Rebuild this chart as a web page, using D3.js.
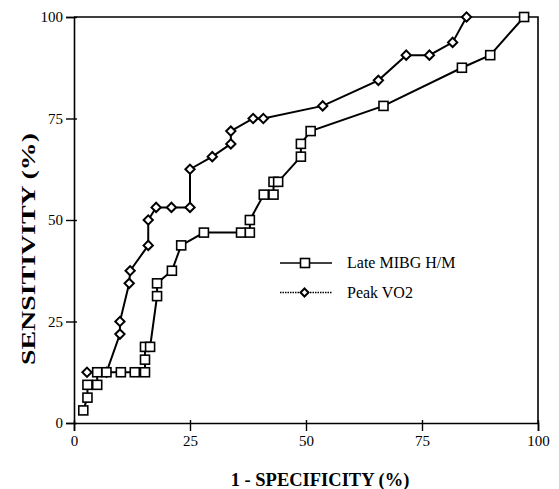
<!DOCTYPE html>
<html lang="en">
  <head>
    <meta charset="UTF-8" />
    <title>ROC</title>
    <script src="https://d3js.org/d3.v7.min.js"></script>
    <style>
      body { margin: 0; background: #fff; }
      svg text { font-family: 'Liberation Serif', 'DejaVu Serif', serif !important; fill: #000; }
      .domain { stroke: #000; stroke-width: 1.6; }
      .tick line { stroke: #000; stroke-width: 1.4; }
    </style>
  </head>
  <body>
    <script>
      // data (x = 1 - specificity %, y = sensitivity %)
      let mibgX = [2, 2.9, 2.9, 5, 5, 7, 10.1, 13.1, 15.3, 15.3, 15.3, 16.4, 17.9, 17.9, 21.1, 23.1, 28, 36, 37.9, 37.9, 40.9, 43, 43, 44, 48.9, 48.9, 51, 66.7, 83.6, 89.7, 97]
      let mibgY = [3.1, 6.25, 9.4, 9.4, 12.5, 12.5, 12.5, 12.5, 12.5, 15.6, 18.75, 18.75, 31.25, 34.4, 37.5, 43.75, 46.9, 46.9, 46.9, 50, 56.25, 56.25, 59.4, 59.4, 65.6, 68.75, 71.9, 78.1, 87.5, 90.6, 100]
      let vo2X = [2.8, 7, 9.9, 9.9, 11.9, 12.1, 16, 16, 17.7, 21, 25, 25, 29.8, 33.8, 33.8, 38.6, 40.8, 53.6, 65.6, 71.6, 76.6, 81.6, 84.6]
      let vo2Y = [12.5, 12.5, 21.9, 25, 34.4, 37.5, 43.75, 50, 53.1, 53.1, 53.1, 62.5, 65.6, 68.75, 71.9, 75, 75, 78.1, 84.4, 90.6, 90.6, 93.75, 100]
      let tickValues = [0, 25, 50, 75, 100]
      let seriesNames = ['Late MIBG H/M', 'Peak VO2']

      let width = 559
      let height = 489
      let plotLeft = 74, plotRight = 538, plotTop = 17, plotBottom = 423
      let serif = "'Liberation Serif', 'DejaVu Serif', serif"

      let x = d3.scaleLinear().domain([0, 100]).range([plotLeft, plotRight])
      let y = d3.scaleLinear().domain([0, 100]).range([plotBottom, plotTop])

      let svg = d3.select('body').append('svg')
        .attr('width', width)
        .attr('height', height)
        .style('font-family', serif)

      // frame on top and right
      svg.append('path')
        .attr('d', `M${plotLeft},${plotTop}H${plotRight}V${plotBottom}`)
        .attr('fill', 'none')
        .attr('stroke', '#000')
        .attr('stroke-width', 1.6)

      let xAxis = svg.append('g')
        .attr('transform', `translate(0,${plotBottom})`)
        .call(d3.axisBottom(x).tickValues(tickValues).tickSizeOuter(0).tickSize(8).tickPadding(4))
      xAxis.attr('font-family', serif).attr('font-size', 15)
      xAxis.selectAll('.tick line').attr('y1', -3)

      let yAxis = svg.append('g')
        .attr('transform', `translate(${plotLeft},0)`)
        .call(d3.axisLeft(y).tickValues(tickValues).tickSizeOuter(0).tickSize(8).tickPadding(3))
      yAxis.attr('font-family', serif).attr('font-size', 15)
      yAxis.selectAll('.tick line').attr('x1', 3)

      // axis titles
      svg.append('text')
        .attr('x', 320)
        .attr('y', 486)
        .attr('text-anchor', 'middle')
        .style('font-size', '18.5px')
        .style('font-weight', 'bold')
        .text('1 - SPECIFICITY (%)')

      svg.append('text')
        .attr('transform', 'translate(35,249) rotate(-90)')
        .attr('text-anchor', 'middle')
        .attr('textLength', 232)
        .attr('lengthAdjust', 'spacingAndGlyphs')
        .style('font-size', '18px')
        .style('font-weight', 'bold')
        .text('SENSITIVITY (%)')

      let line = d3.line().x(d => x(d[0])).y(d => y(d[1]))
      let vo2 = vo2X.map((v, i) => [v, vo2Y[i]])
      let mibg = mibgX.map((v, i) => [v, mibgY[i]])

      let diamond = d3.symbol().type(d3.symbolDiamond2).size(55)

      // Peak VO2 first, squares drawn over it
      svg.append('path')
        .datum(vo2)
        .attr('d', line)
        .attr('fill', 'none')
        .attr('stroke', '#000')
        .attr('stroke-width', 2)
      svg.selectAll('path.dia')
        .data(vo2)
        .enter()
        .append('path')
        .attr('class', 'dia')
        .attr('transform', d => `translate(${x(d[0])},${y(d[1])})`)
        .attr('d', diamond)
        .attr('fill', '#fff')
        .attr('stroke', '#000')
        .attr('stroke-width', 2)

      svg.append('path')
        .datum(mibg)
        .attr('d', line)
        .attr('fill', 'none')
        .attr('stroke', '#000')
        .attr('stroke-width', 2)
      svg.selectAll('rect.sq')
        .data(mibg)
        .enter()
        .append('rect')
        .attr('class', 'sq')
        .attr('x', d => x(d[0]) - 4.5)
        .attr('y', d => y(d[1]) - 4.5)
        .attr('width', 9)
        .attr('height', 9)
        .attr('fill', '#fff')
        .attr('stroke', '#000')
        .attr('stroke-width', 1.6)

      // legend
      let legend = svg.append('g').attr('transform', 'translate(280,263)')
      legend.append('line').attr('x1', 0).attr('x2', 52).attr('stroke', '#000').attr('stroke-width', 1.6)
      legend.append('rect').attr('x', 20.5).attr('y', -4.5).attr('width', 9).attr('height', 9)
        .attr('fill', '#fff').attr('stroke', '#000').attr('stroke-width', 1.6)
      legend.append('line').attr('x1', 0).attr('x2', 52).attr('y1', 29.5).attr('y2', 29.5)
        .attr('stroke', '#000').attr('stroke-width', 1.4).attr('stroke-dasharray', '1.5,1')
      legend.append('path').attr('transform', 'translate(24.5,29.5)').attr('d', d3.symbol().type(d3.symbolDiamond2).size(40))
        .attr('fill', '#fff').attr('stroke', '#000').attr('stroke-width', 2)
      legend.selectAll('text.lab')
        .data(seriesNames)
        .enter()
        .append('text')
        .attr('class', 'lab')
        .attr('x', 67)
        .attr('y', (d, i) => i * 29.5 + 5)
        .style('font-size', '16px')
        .text(d => d)
    </script>
  </body>
</html>
